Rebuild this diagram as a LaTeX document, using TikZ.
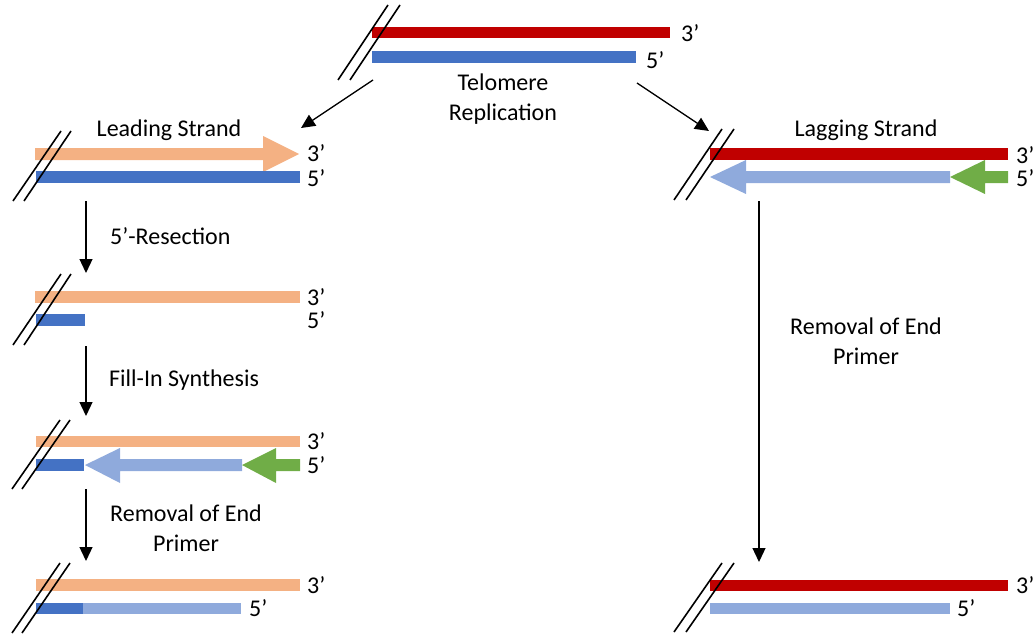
\documentclass[tikz,border=0pt]{standalone}
\usepackage{fontspec}
\setmainfont{Carlito}
\usetikzlibrary{arrows.meta}
\definecolor{dred}{HTML}{C00000}
\definecolor{dblue}{HTML}{4472C4}
\definecolor{orng}{HTML}{F4B183}
\definecolor{lblue}{HTML}{8FAADC}
\definecolor{grn}{HTML}{70AD47}
\begin{document}
\begin{tikzpicture}[x=1pt,y=-1pt,
  lbl/.style={inner sep=0pt,font=\fontsize{24}{30}\selectfont,align=center},
  endlbl/.style={inner sep=0pt,font=\fontsize{24}{30}\selectfont,anchor=west},
  flow/.style={draw=black,line width=1.3pt,-{Triangle[length=14pt,width=13pt]}},
  cut/.style={draw=black,line width=1.6pt}]
\useasboundingbox (0,0) rectangle (1034,634);
% ---------- top ----------
\fill[dred] (372,27) rectangle (670,38);
\fill[dblue] (372,51) rectangle (636,63);
\node[endlbl] (t3) at (681,33) {3’};
\node[endlbl] (t5) at (646,60) {5’};
\node[lbl] (telo) at (503,99) {Telomere\\Replication};
\draw[cut] (338,80) -- (388,5);
\draw[cut] (350,80) -- (400,5);
\coordinate (tl) at (373,80);
\coordinate (tr) at (637,83);
\coordinate (lead) at (301,128);
\coordinate (lag) at (709,131);
\draw[flow] (tl) -- (lead);
\draw[flow] (tr) -- (lag);
% ---------- leading strand ----------
\node[lbl] (leadlbl) at (169,130) {Leading Strand};
\fill[orng] (35,148) -- (263,148) -- (263,136) -- (299,154) -- (263,172) -- (263,160) -- (35,160) -- cycle;
\fill[dblue] (36,171) rectangle (300,183);
\node[endlbl] (l13) at (307,153) {3’};
\node[endlbl] (l15) at (307,178) {5’};
\draw[cut] (13,201) -- (61,131);
\draw[cut] (24,201) -- (71,131);
\coordinate (a1s) at (86,201);
\coordinate (a1e) at (86,273);
\draw[flow] (a1s) -- (a1e);
\node[lbl,anchor=west] (res) at (110,236) {5’-Resection};
% step 2
\fill[orng] (35,291) rectangle (300,303);
\fill[dblue] (36,314) rectangle (85,326);
\node[endlbl] (l23) at (307,297) {3’};
\node[endlbl] (l25) at (307,320) {5’};
\draw[cut] (13,345) -- (61,274);
\draw[cut] (24,345) -- (71,274);
\coordinate (a2s) at (86,346);
\coordinate (a2e) at (86,416);
\draw[flow] (a2s) -- (a2e);
\node[lbl,anchor=west] (fill) at (109,380) {Fill-In Synthesis};
% step 3
\fill[orng] (36,436) rectangle (300,447);
\fill[dblue] (36,459) rectangle (84,471);
\fill[lblue] (85,465) -- (120,448) -- (120,459) -- (242,459) -- (242,471) -- (120,471) -- (120,483) -- cycle;
\fill[grn] (242,465) -- (276,448) -- (276,459) -- (300,459) -- (300,471) -- (276,471) -- (276,483) -- cycle;
\node[endlbl] (l33) at (307,441) {3’};
\node[endlbl] (l35) at (307,465) {5’};
\draw[cut] (12,489) -- (60,420);
\draw[cut] (22,489) -- (70,420);
\coordinate (a3s) at (86,489);
\coordinate (a3e) at (86,561);
\draw[flow] (a3s) -- (a3e);
\node[lbl] (rem1) at (186,528) {Removal of End\\Primer};
% step 4
\fill[orng] (36,579) rectangle (300,591);
\fill[dblue] (36,603) rectangle (83,614);
\fill[lblue] (83,603) rectangle (241,614);
\node[endlbl] (l43) at (307,585) {3’};
\node[endlbl] (l45) at (249,608) {5’};
\draw[cut] (12,633) -- (60,563);
\draw[cut] (22,633) -- (70,563);
% ---------- lagging strand ----------
\node[lbl] (laglbl) at (866,130) {Lagging Strand};
\fill[dred] (710,148) rectangle (1008,160);
\fill[lblue] (710,177) -- (746,160) -- (746,171) -- (950,171) -- (950,183) -- (746,183) -- (746,194) -- cycle;
\fill[grn] (950,177) -- (985,160) -- (985,171) -- (1008,171) -- (1008,183) -- (985,183) -- (985,194) -- cycle;
\node[endlbl] (r13) at (1016,155) {3’};
\node[endlbl] (r15) at (1016,178) {5’};
\draw[cut] (674,200) -- (722,129);
\draw[cut] (686,200) -- (734,129);
\coordinate (rs) at (759,201);
\coordinate (re) at (759,562);
\draw[flow] (rs) -- (re);
\node[lbl] (rem2) at (866,341) {Removal of End\\Primer};
\fill[dred] (710,580) rectangle (1008,591);
\fill[lblue] (710,603) rectangle (950,614);
\node[endlbl] (r23) at (1016,585) {3’};
\node[endlbl] (r25) at (957,608) {5’};
\draw[cut] (674,632) -- (722,563);
\draw[cut] (686,632) -- (734,563);
\end{tikzpicture}
\end{document}
